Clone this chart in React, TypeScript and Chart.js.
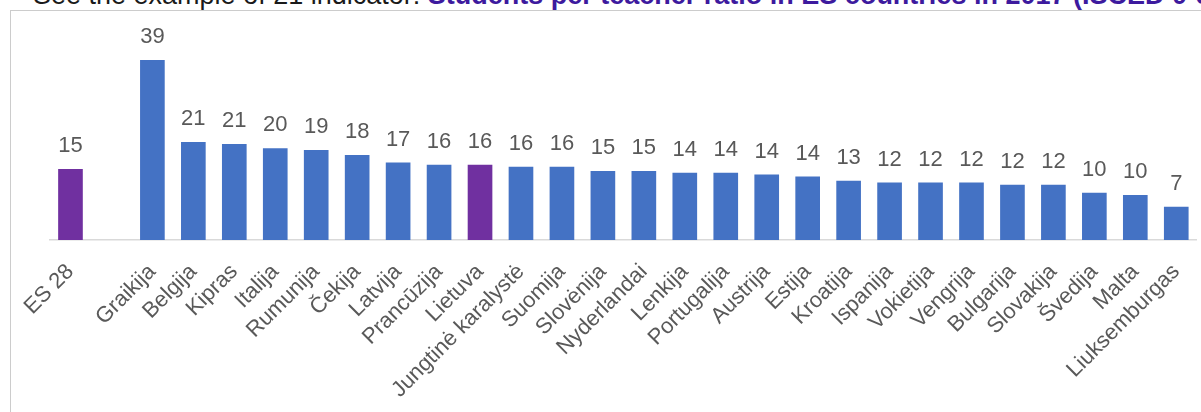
import React, { useEffect, useRef } from "react";
import { Chart, registerables } from "chart.js";

Chart.register(...registerables);

const categories: string[] = [
  "ES 28", "", "Graikija", "Belgija", "Kipras", "Italija", "Rumunija", "Čekija", "Latvija",
  "Prancūzija", "Lietuva", "Jungtinė karalystė", "Suomija", "Slovėnija", "Nyderlandai",
  "Lenkija", "Portugalija", "Austrija", "Estija", "Kroatija", "Ispanija", "Vokietija",
  "Vengrija", "Bulgarija", "Slovakija", "Švedija", "Malta", "Liuksemburgas",
];

const ratios: (number | null)[] = [
  15.2, null, 38.7, 21.0, 20.6, 19.7, 19.3, 18.2, 16.6, 16.1, 16.1, 15.7, 15.7, 14.8, 14.8,
  14.4, 14.4, 14.0, 13.6, 12.7, 12.3, 12.3, 12.3, 11.8, 11.8, 10.1, 9.6, 7.1,
];

const highlighted: string[] = ["ES 28", "Lietuva"];

const Y_MAX = 45;
const FONT = 'Arial, "Liberation Sans", sans-serif';

const valueLabels = {
  id: "valueLabels",
  afterDatasetsDraw(chart: any) {
    const ctx = chart.ctx;
    const meta = chart.getDatasetMeta(0);
    ctx.save();
    ctx.font = `22px ${FONT}`;
    ctx.fillStyle = "#595959";
    ctx.textAlign = "center";
    ctx.textBaseline = "alphabetic";
    meta.data.forEach((bar: any, i: number) => {
      const v = ratios[i];
      if (v === null || v === undefined) return;
      ctx.fillText(String(Math.round(v)), bar.x, bar.y - 17);
    });
    ctx.restore();
  },
};

export default function App() {
  const canvasRef = useRef<HTMLCanvasElement | null>(null);

  useEffect(() => {
    if (!canvasRef.current) return;
    const chart = new Chart(canvasRef.current, {
      type: "bar",
      data: {
        labels: categories,
        datasets: [
          {
            data: ratios,
            backgroundColor: categories.map((c) => (highlighted.includes(c) ? "#7030A0" : "#4472C4")),
            borderWidth: 0,
            barThickness: 24,
          },
        ],
      },
      options: {
        responsive: false,
        animation: false,
        devicePixelRatio: 1,
        layout: { padding: { left: 50, right: 4, top: 31, bottom: 0 } },
        plugins: { legend: { display: false }, tooltip: { enabled: false }, title: { display: false } },
        scales: {
          x: {
            grid: { display: false, drawTicks: false },
            border: { display: true, color: "#d9d9d9", width: 1.5 },
            ticks: {
              autoSkip: false,
              maxRotation: 45,
              minRotation: 45,
              padding: 19,
              color: "#595959",
              font: { family: FONT, size: 22 },
            },
          },
          y: {
            display: false,
            min: 0,
            max: Y_MAX,
          },
        },
      },
      plugins: [valueLabels],
    });
    return () => chart.destroy();
  }, []);

  return (
    <div style={{ position: "fixed", left: 0, top: 0, width: 1201, height: 412, overflow: "hidden", background: "#fff" }}>
      <div
        style={{
          position: "absolute",
          left: 33,
          top: -18,
          fontFamily: FONT,
          fontSize: 27,
          lineHeight: "27px",
          whiteSpace: "nowrap",
          color: "#1a1a1a",
        }}
      >
        See the example of 21 indicator:{" "}
        <span style={{ fontWeight: "bold", color: "#3d1a9e" }}>
          Students per teacher ratio in ES countries in 2017 (ISCED 0-8)
        </span>
      </div>
      <div
        style={{
          position: "absolute",
          left: 10,
          top: 10,
          width: 1220,
          height: 420,
          borderTop: "1px solid #cccccc",
          borderLeft: "1px solid #cccccc",
        }}
      />
      <canvas
        ref={canvasRef}
        width={1214}
        height={422}
        style={{ position: "absolute", left: 0, top: 0, width: 1214, height: 422 }}
      />
    </div>
  );
}
